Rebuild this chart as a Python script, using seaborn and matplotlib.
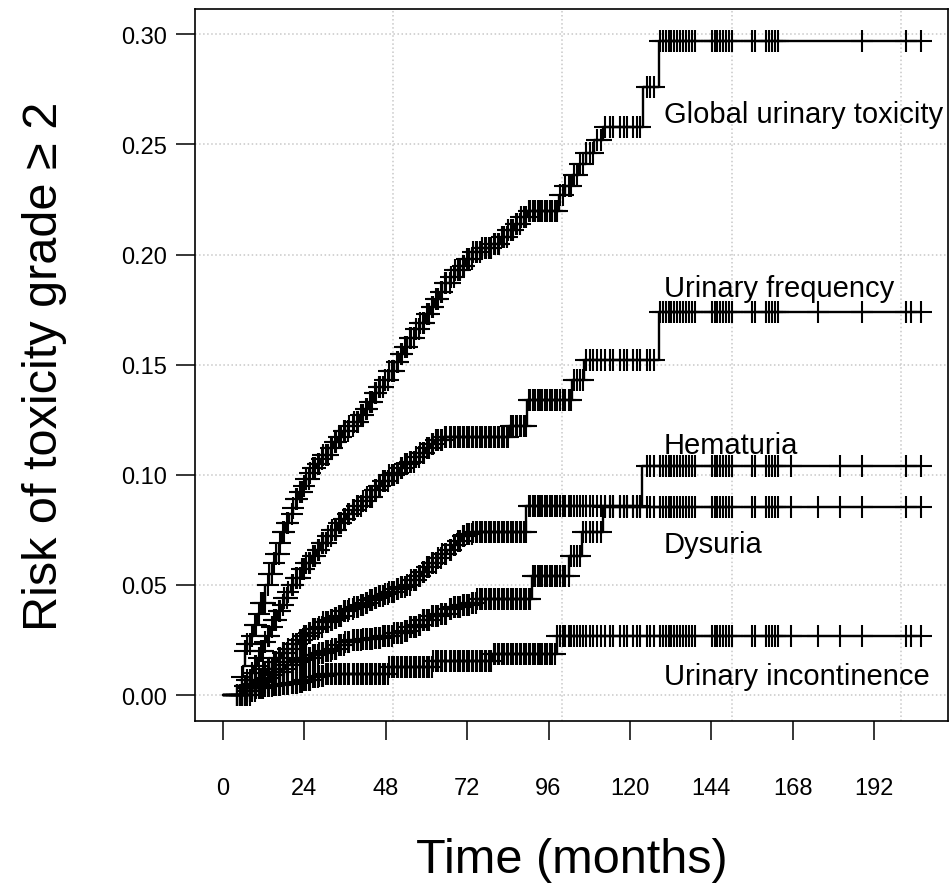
import numpy as np
import pandas as pd
import matplotlib
matplotlib.use('Agg')
import matplotlib.pyplot as plt
import seaborn as sns

# cumulative incidence knots (months, risk)
global_t = [0, 5.5, 6, 6.5, 7.2, 8, 9, 10, 11, 12.4, 13.5, 14.5, 15.5, 16.5, 17.5, 18.5, 19.5,
            20.5, 21.5, 22.5, 23.5, 24.5, 25.5, 26.5, 27.5, 28.5, 29.5, 31, 32.5, 34, 35.5,
            37, 38.5, 40, 41.5, 43, 44.5, 46, 47.5, 49, 50.5, 52, 53.5, 55, 56.5, 58, 59.5,
            61, 62.5, 64, 65.5, 67, 68.5, 70, 71.5, 73.5, 76, 79, 82, 84, 86, 88, 89.7, 99,
            101, 103, 105, 107, 109.5, 112, 124, 128.5]
global_v = [0, 0.008, 0.013, 0.020, 0.023, 0.027, 0.032, 0.037, 0.042, 0.050, 0.055, 0.060,
            0.064, 0.069, 0.074, 0.078, 0.082, 0.085, 0.089, 0.092, 0.095, 0.098, 0.101, 0.103,
            0.105, 0.107, 0.109, 0.112, 0.115, 0.117, 0.120, 0.122, 0.124, 0.127, 0.130, 0.133,
            0.137, 0.140, 0.143, 0.147, 0.151, 0.155, 0.158, 0.162, 0.166, 0.169, 0.173, 0.176,
            0.180, 0.183, 0.187, 0.190, 0.193, 0.195, 0.198, 0.201, 0.203, 0.205, 0.208, 0.211,
            0.214, 0.217, 0.220, 0.227, 0.231, 0.236, 0.241, 0.246, 0.252, 0.258, 0.276, 0.297]

freq_t = [0, 6, 7, 8, 9, 10, 11, 12, 13, 14, 15, 16, 17, 18, 19, 20, 21.5, 23, 24.5, 26, 27.5,
          29, 30.5, 32, 33.5, 35, 36.5, 38, 39.5, 41, 42.5, 44, 45.5, 47, 49, 50.5, 52, 53.5,
          55, 56.5, 58, 59.5, 61, 62.5, 65, 84.4, 89.7, 103, 106.5, 128.5]
freq_v = [0, 0.004, 0.007, 0.010, 0.013, 0.017, 0.020, 0.024, 0.027, 0.031, 0.034, 0.038,
          0.041, 0.044, 0.047, 0.050, 0.053, 0.057, 0.060, 0.063, 0.066, 0.069, 0.072, 0.075,
          0.078, 0.080, 0.082, 0.084, 0.086, 0.088, 0.090, 0.093, 0.095, 0.097, 0.100, 0.101,
          0.103, 0.105, 0.106, 0.108, 0.110, 0.112, 0.114, 0.116, 0.117, 0.122, 0.134, 0.143,
          0.152, 0.174]

hema_t = [0, 7, 8.5, 10, 11.5, 13, 14.5, 16, 17.5, 19, 20.5, 22, 23.5, 25, 26.5, 28, 29.5, 31,
          32.5, 34, 35.5, 37, 38.5, 40, 41.5, 43, 44.5, 46, 47.5, 49, 50.5, 52, 54, 55.5, 57,
          58.5, 60, 61.5, 63, 64.5, 66, 67.5, 69, 70.5, 72, 73.5, 89.4, 123.5]
hema_v = [0, 0.003, 0.005, 0.007, 0.010, 0.012, 0.015, 0.017, 0.019, 0.021, 0.023, 0.025,
          0.027, 0.028, 0.030, 0.031, 0.033, 0.034, 0.035, 0.036, 0.038, 0.039, 0.040, 0.041,
          0.042, 0.043, 0.044, 0.045, 0.046, 0.047, 0.048, 0.049, 0.050, 0.052, 0.054, 0.056,
          0.058, 0.060, 0.062, 0.064, 0.066, 0.068, 0.070, 0.072, 0.073, 0.074, 0.086, 0.104]

dys_t = [0, 8, 9.5, 11, 12.5, 14, 15.5, 17, 18.5, 20, 22, 24, 26, 28, 30, 32, 34, 36, 38, 41,
         44, 47, 50, 53, 55, 57, 59, 61, 63.5, 66, 68, 70, 72.5, 75, 91, 102, 106, 112]
dys_v = [0, 0.003, 0.0045, 0.006, 0.0075, 0.009, 0.0105, 0.012, 0.0135, 0.015, 0.016, 0.017,
         0.018, 0.019, 0.020, 0.021, 0.0225, 0.024, 0.025, 0.0255, 0.026, 0.027, 0.028, 0.029,
         0.031, 0.032, 0.034, 0.036, 0.037, 0.039, 0.040, 0.041, 0.042, 0.0435, 0.054, 0.063,
         0.074, 0.0855]

inc_t = [0, 7, 9.5, 12, 14.5, 17, 19.5, 22, 24, 26, 28, 30, 49, 61.8, 79.4, 98.5]
inc_v = [0, 0.002, 0.003, 0.004, 0.0045, 0.005, 0.0055, 0.006, 0.007, 0.008, 0.0088, 0.0095,
         0.0127, 0.0155, 0.0186, 0.027]

end_month = 205.8

# censoring times (months), shared follow-up of the cohort
censor_early = [4.2, 5.1, 5.7, 6.6, 7.2, 7.9, 8.5, 9.3, 9.8, 10.6, 11.1, 11.9, 12.3, 13.2,
                13.6, 14.4, 15.0, 15.5, 16.4, 16.8, 17.6, 18.1, 18.9, 19.3, 20.2, 20.6, 21.5,
                21.9, 22.7, 23.2, 24.0, 24.5, 25.3, 25.7, 26.6, 27.0, 27.9, 28.3, 29.1, 29.6,
                30.4, 30.9, 31.7, 32.2, 33.0, 33.4, 34.3, 34.7, 35.6, 36.0, 36.9, 37.3, 38.2,
                38.6, 39.5, 39.9, 40.8, 41.2, 42.1, 42.5, 43.4, 43.8, 44.7, 45.1, 46.0, 46.4,
                47.3, 47.7, 48.6, 49.0, 49.9, 50.3, 51.2, 51.6, 52.5, 52.9, 53.8, 54.2, 55.1,
                55.5, 56.4, 56.8, 57.7, 58.1, 59.0, 59.4, 60.3, 60.7, 61.6, 62.0, 62.9, 63.3,
                64.2, 64.6, 65.5, 65.9, 66.8, 67.2, 68.1, 68.5, 69.4, 69.8, 70.7, 71.1, 72.0,
                72.4, 73.3, 73.7, 74.6, 75.0, 75.9, 76.3, 77.2, 77.6, 78.5, 78.9, 79.8, 80.2,
                81.1, 81.5, 82.4, 82.8, 83.7, 84.1, 85.0, 85.4, 86.3, 86.7, 87.6, 88.0, 88.9,
                89.3, 90.2, 90.6, 91.5, 92.0, 92.8, 93.4, 94.1, 94.9, 95.5, 96.3, 97.0, 97.8,
                98.6, 99.3, 100.2, 101.0, 101.9, 102.7, 103.6, 104.5, 105.3, 106.2, 107.1,
                108.3, 109.2, 110.4, 111.5, 112.6, 114.0, 115.1, 117.2, 118.3, 119.1, 121.0,
                122.2, 123.1, 124.9, 126.0, 127.2]
censor_late = [129.0, 129.8, 130.6, 131.5, 132.2, 133.0, 133.9, 134.8, 135.6, 136.5, 137.4,
               138.3, 139.2, 144.1, 145.0, 145.8, 146.7, 147.5, 148.4, 149.3, 150.0, 156.0,
               156.9, 160.0, 160.9, 161.8, 162.7, 163.6]
global_last = [188.5, 201.5, 205.8]
freq_last = [175.6, 188.5, 201.5, 203.0, 205.8]
hema_last = [167.6, 182.0, 188.5, 201.5, 205.8]
dys_last = [167.6, 175.6, 182.0, 188.5, 201.5, 205.8]
inc_last = [167.6, 175.6, 182.0, 188.5, 201.5, 203.0, 205.8]

labels = ['Global urinary toxicity', 'Urinary frequency', 'Hematuria', 'Dysuria',
          'Urinary incontinence']
label_y = [0.260, 0.181, 0.110, 0.065, 0.005]
label_x = 130

x_ticks = [0, 24, 48, 72, 96, 120, 144, 168, 192]
y_ticks = [0.00, 0.05, 0.10, 0.15, 0.20, 0.25, 0.30]
grid_months = [0, 50, 100, 150, 200]

curves = [(global_t, global_v, global_last), (freq_t, freq_v, freq_last),
          (hema_t, hema_v, hema_last), (dys_t, dys_v, dys_last), (inc_t, inc_v, inc_last)]

sns.set_style('white')
plt.rcParams['font.family'] = ['Liberation Sans', 'DejaVu Sans']
plt.rcParams['text.color'] = 'black'
plt.rcParams['axes.labelcolor'] = 'black'
plt.rcParams['xtick.color'] = 'black'
plt.rcParams['ytick.color'] = 'black'

fig = plt.figure(figsize=(9.52, 8.95), dpi=100)
ax = fig.add_axes([195 / 952, 1 - 722 / 895, 753 / 952, 712 / 895])

for t, v, last in curves:
    tt = np.array(t + [end_month])
    vv = np.array(v + [v[-1]])
    df = pd.DataFrame({'month': tt, 'risk': vv})
    sns.lineplot(data=df, x='month', y='risk', drawstyle='steps-post', color='black',
                 linewidth=1.7, estimator=None, ax=ax, zorder=3)
    cens = np.array(censor_early + censor_late + last)
    idx = np.searchsorted(tt, cens, side='right') - 1
    sns.scatterplot(x=cens, y=vv[idx], marker='+', s=240, color='black', linewidth=1.5,
                    ax=ax, zorder=4, legend=False)

for lab, ly in zip(labels, label_y):
    ax.text(label_x, ly, lab, fontsize=21, va='baseline', ha='left')

ax.set_xlim(-8.26, 213.8)
ax.set_ylim(-0.0118, 0.3115)
ax.set_xticks(x_ticks)
ax.set_yticks(y_ticks)
ax.set_yticklabels([f'{y:.2f}' for y in y_ticks])
ax.set_xticks(grid_months, minor=True)
ax.tick_params(axis='x', which='minor', length=0, bottom=False)
ax.tick_params(axis='both', which='major', direction='out', length=14, width=1.1,
               labelsize=17, bottom=True, left=True)
ax.tick_params(axis='x', which='major', pad=26)
ax.tick_params(axis='y', which='major', pad=6)
ax.grid(True, which='minor', axis='x', linestyle=':', color='#c8c8c8', linewidth=1.1)
ax.grid(True, which='major', axis='y', linestyle=':', color='#c8c8c8', linewidth=1.1)
ax.grid(False, which='major', axis='x')
ax.set_axisbelow(True)
for s in ax.spines.values():
    s.set_color('black')
    s.set_linewidth(1.2)

ax.set_xlabel('Time (months)', fontsize=35)
ax.set_ylabel('Risk of toxicity grade \u2265 2', fontsize=35)
ax.xaxis.set_label_coords(0.5, -0.163)
ax.yaxis.set_label_coords(-0.17, 0.5)

fig.savefig('out.png', dpi=100)
